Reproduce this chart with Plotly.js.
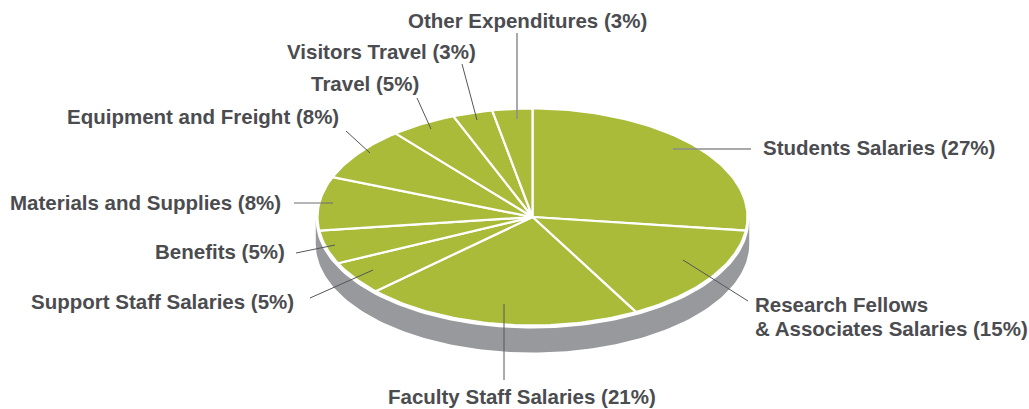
<!DOCTYPE html>
<html>
<head>
<meta charset="utf-8">
<script src="https://cdn.plot.ly/plotly-3.0.1.min.js"></script>
<style>html,body{margin:0;padding:0;background:#fff}#chart{width:1029px;height:409px}</style>
</head>
<body>
<div id="chart"></div>
<script>
// Data, clockwise from the top of the pie
const categories = ['Students Salaries','Research Fellows<br>& Associates Salaries','Faculty Staff Salaries','Support Staff Salaries','Benefits','Materials and Supplies','Equipment and Freight','Travel','Visitors Travel','Other Expenditures'];
const shares = [27,15,21,5,5,8,8,5,3,3];

// Label placement: anchor x, centre y of the last text line
const labelX = [761,753,386,29,153,8,65,309,285,406];
const labelY = [147,328,396,301,251,202,116,83,51,20];
const lineGap = 24;
// Leader lines [x0,y0,x1,y1]
const leaders = [
  [673,149,751,149],[683,260,748,301],[504,304,504,380],[373,270,310,298],[335,245,296,253],
  [333,203,294,203],[370,153,346,131],[431,129,417,98],[477,120,462,64],[517,119,517,33]
];
const leaderColor = ['#8b8c8e','#55565a','#55565a','#55565a','#55565a','#6b6c6f','#55565a','#55565a','#55565a','#8b8c8e'];
const leaderWidth = [1.5,1,1,1,1,1,1,1,1,1.5];

// Pie geometry
const cx = 532.5, cy = 217, rx = 215, ry = 108.5, depth = 27;
const green = '#a9bb38', side = '#98999c', ink = '#4b4c4f';
const pt = f => [cx + rx*Math.sin(2*Math.PI*f), cy - ry*Math.cos(2*Math.PI*f)];

const traces = [];
// Side wall of the pie: front half of the rim plus its lowered copy
(function(){
  const xs=[], ys=[], n=120;
  for(let i=0;i<=n;i++){const f=0.25+0.5*i/n,[x,y]=pt(f);xs.push(cx+(x-cx)*1.008);ys.push(y+3);}
  for(let i=n;i>=0;i--){const f=0.25+0.5*i/n,[x,y]=pt(f);xs.push(cx+(x-cx)*1.008);ys.push(y+depth);}
  traces.push({type:'scatter',mode:'lines',x:xs,y:ys,fill:'toself',fillcolor:side,line:{width:0,color:side},hoverinfo:'skip',showlegend:false});
})();
// One polygon per slice, sized by its share
const total = shares.reduce((a,b)=>a+b,0);
let acc = 0;
shares.forEach((v,i)=>{
  const xs=[cx], ys=[cy], a=acc/total, b=(acc+v)/total, n=Math.max(8,v*3);
  for(let k=0;k<=n;k++){const [x,y]=pt(a+(b-a)*k/n);xs.push(x);ys.push(y);}
  xs.push(cx);ys.push(cy);
  traces.push({type:'scatter',mode:'lines',x:xs,y:ys,fill:'toself',fillcolor:green,
    line:{color:'#ffffff',width:2.2},name:categories[i],text:v+'%',hoverinfo:'name+text',showlegend:false});
  acc += v;
});

// Multi-line labels are split so their line gap can match the reference
const annotations = [];
categories.forEach((c,i)=>{
  const lines = (c+' ('+shares[i]+'%)').split('<br>');
  lines.forEach((t,k)=>annotations.push({
    x:labelX[i], y:labelY[i]-(lines.length-1-k)*lineGap, xref:'x', yref:'y', xanchor:'left', yanchor:'middle', align:'left',
    showarrow:false, text:t,
    font:{family:'"Liberation Sans", Arial, sans-serif', size:20.5, color:ink, weight:700}
  }));
});
const shapes = leaders.map((l,i)=>({type:'line',xref:'x',yref:'y',x0:l[0],y0:l[1],x1:l[2],y1:l[3],
  line:{color:leaderColor[i],width:leaderWidth[i]}}));

Plotly.newPlot('chart',traces,{
  width:1029,height:409,margin:{l:0,r:0,t:0,b:0},
  paper_bgcolor:'#fff',plot_bgcolor:'#fff',showlegend:false,
  xaxis:{range:[0,1029],visible:false,fixedrange:true},
  yaxis:{range:[409,0],visible:false,fixedrange:true},
  annotations,shapes
},{displayModeBar:false,staticPlot:true});
</script>
</body>
</html>
